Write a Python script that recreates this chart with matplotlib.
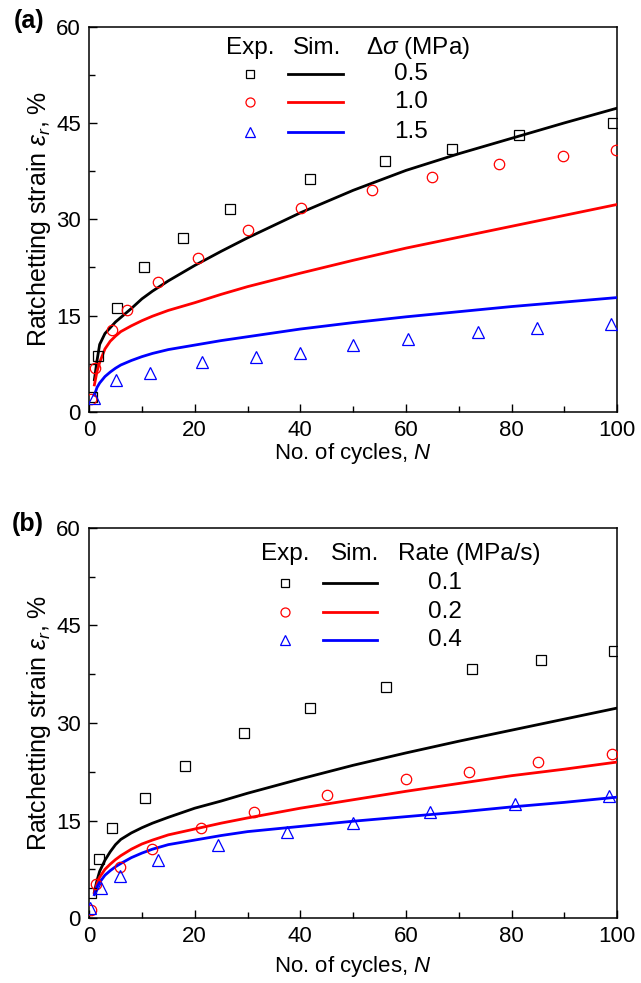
import numpy as np
import matplotlib
matplotlib.use('Agg')
import matplotlib.pyplot as plt

plt.rcParams['font.family'] = ['Liberation Sans', 'DejaVu Sans']
plt.rcParams['mathtext.fontset'] = 'custom'
plt.rcParams['mathtext.rm'] = 'Liberation Sans'
plt.rcParams['mathtext.it'] = 'Liberation Sans:italic'
plt.rcParams['mathtext.fallback'] = 'stix'

# ---------------- data, panel (a): stress amplitude ----------------
a_labels = ['0.5', '1.0', '1.5']

a_exp_x = [
    [0.5, 1.7, 5.3, 10.4, 17.7, 26.6, 41.9, 56.1, 68.8, 81.4, 99.1],
    [0.3, 1.2, 4.4, 7.1, 13.1, 20.7, 30.0, 40.2, 53.6, 65.0, 77.7, 89.8, 99.8],
    [0.9, 5.0, 11.6, 21.3, 31.6, 40.0, 49.9, 60.4, 73.7, 84.8, 98.8],
]
a_exp_y = [
    [2.3, 8.7, 16.2, 22.5, 27.1, 31.6, 36.3, 39.1, 41.0, 43.1, 45.0],
    [2.0, 6.8, 12.8, 15.8, 20.3, 24.0, 28.3, 31.7, 34.6, 36.5, 38.6, 39.8, 40.8],
    [2.2, 4.9, 6.0, 7.7, 8.5, 9.2, 10.4, 11.3, 12.4, 13.1, 13.7],
]

sim_x = [1, 1.5, 2, 3, 4, 5, 6, 8, 10, 12, 15, 20, 25, 30, 40, 50, 60, 70, 80, 90, 100]
a_sim_y = [
    [5.0, 8.0, 10.5, 12.2, 13.1, 14.0, 14.7, 16.1, 17.6, 18.8, 20.4, 22.8, 25.0, 27.1,
     31.0, 34.5, 37.6, 40.2, 42.6, 45.0, 47.3],
    [4.2, 6.3, 7.7, 9.8, 11.0, 11.8, 12.5, 13.4, 14.2, 14.9, 15.8, 17.0, 18.3, 19.5,
     21.6, 23.6, 25.5, 27.2, 28.9, 30.6, 32.3],
    [2.6, 3.8, 4.5, 5.5, 6.2, 6.8, 7.3, 8.0, 8.6, 9.1, 9.7, 10.4, 11.1, 11.7,
     12.9, 13.9, 14.8, 15.6, 16.4, 17.1, 17.8],
]

# ---------------- data, panel (b): loading rate ----------------
b_labels = ['0.1', '0.2', '0.4']

b_exp_x = [
    [0.3, 1.9, 4.4, 10.6, 18.1, 29.4, 41.9, 56.3, 72.5, 85.6, 99.3],
    [0.3, 1.4, 5.9, 11.9, 21.2, 31.2, 45.0, 60.0, 71.9, 85.0, 99.0],
    [0.1, 2.3, 5.9, 13.1, 24.4, 37.5, 50.0, 64.6, 80.7, 98.5],
]
b_exp_y = [
    [3.9, 9.1, 13.8, 18.4, 23.4, 28.5, 32.3, 35.6, 38.3, 39.7, 41.0],
    [1.2, 5.3, 7.8, 10.7, 13.8, 16.3, 18.9, 21.4, 22.5, 24.0, 25.3],
    [1.6, 4.7, 6.5, 8.9, 11.2, 13.2, 14.6, 16.3, 17.6, 18.8],
]

b_sim_y = [
    [4.0, 5.8, 7.2, 8.9, 10.2, 11.3, 12.1, 13.1, 13.9, 14.6, 15.5, 16.9, 18.0, 19.2,
     21.4, 23.5, 25.4, 27.2, 28.9, 30.6, 32.3],
    [3.9, 5.3, 6.3, 7.5, 8.3, 9.0, 9.6, 10.6, 11.4, 12.0, 12.8, 13.7, 14.6, 15.4,
     16.9, 18.2, 19.5, 20.7, 21.9, 22.9, 24.0],
    [3.6, 4.8, 5.5, 6.6, 7.3, 7.9, 8.4, 9.3, 10.0, 10.6, 11.3, 12.0, 12.7, 13.3,
     14.1, 14.9, 15.6, 16.3, 17.1, 17.8, 18.6],
]

colors = ['black', 'red', 'blue']
markers = ['s', 'o', '^']
msizes = [6.5, 7.5, 8]

fig = plt.figure(figsize=(6.41, 9.83), dpi=100)
ax_a = fig.add_axes([0.139, 0.581, 0.824, 0.392])
ax_b = fig.add_axes([0.139, 0.066, 0.824, 0.397])


def style_axis(ax, xpad):
    ax.set_xlim(0, 100)
    ax.set_ylim(0, 60)
    ax.set_xticks(np.arange(0, 101, 20))
    ax.set_xticks(np.arange(10, 100, 20), minor=True)
    ax.set_yticks(np.arange(0, 61, 15))
    ax.set_yticks(np.arange(7.5, 60, 15), minor=True)
    ax.tick_params(which='both', direction='in', top=False, right=False,
                   labelsize=16, width=1.0)
    ax.tick_params(which='major', length=6, pad=6)
    ax.tick_params(which='minor', length=4)
    for s in ax.spines.values():
        s.set_linewidth(1.1)
    ax.set_xlabel('No. of cycles, $N$', fontsize=16, labelpad=xpad)
    ax.set_ylabel(r'Ratchetting strain $\varepsilon_r$, %', fontsize=18, labelpad=2)


def draw_panel(ax, exp_x, exp_y, sim_y, labels, head, pos):
    for k in range(3):
        ax.plot(sim_x, sim_y[k], color=colors[k], lw=2.0, zorder=3)
        ax.plot(exp_x[k], exp_y[k], linestyle='none', marker=markers[k],
                markersize=msizes[k], markerfacecolor='none',
                markeredgecolor=colors[k], markeredgewidth=0.9, zorder=4)
    # hand made legend in axes coordinates
    xm, xs, xl0, xl1, xh, xv, yh, rows = pos
    tr = ax.transAxes
    ax.text(xm, yh, 'Exp.', transform=tr, ha='center', va='center', fontsize=17.5)
    ax.text(xs, yh, 'Sim.', transform=tr, ha='center', va='center', fontsize=17.5)
    ax.text(xh, yh, head, transform=tr, ha='center', va='center', fontsize=17.5)
    for k in range(3):
        ax.plot([xm], [rows[k]], transform=tr, linestyle='none', marker=markers[k],
                markersize=msizes[k] - 1, markerfacecolor='none',
                markeredgecolor=colors[k], markeredgewidth=0.9, clip_on=False)
        ax.plot([xl0, xl1], [rows[k], rows[k]], transform=tr, color=colors[k], lw=2.0)
        ax.text(xv, rows[k], labels[k], transform=tr, ha='center', va='center', fontsize=17.5)


style_axis(ax_a, 0)
style_axis(ax_b, 5)

draw_panel(ax_a, a_exp_x, a_exp_y, a_sim_y, a_labels, r'$\Delta\sigma$ (MPa)',
           (0.305, 0.432, 0.377, 0.481, 0.622, 0.610, 0.945, [0.878, 0.803, 0.727]))
draw_panel(ax_b, b_exp_x, b_exp_y, b_sim_y, b_labels, 'Rate (MPa/s)',
           (0.371, 0.504, 0.443, 0.545, 0.720, 0.674, 0.933, [0.859, 0.785, 0.713]))

fig.text(0.045, 0.979, '(a)', fontsize=18, fontweight='bold', ha='center', va='center')
fig.text(0.043, 0.467, '(b)', fontsize=18, fontweight='bold', ha='center', va='center')

fig.savefig('out.png', dpi=100)
